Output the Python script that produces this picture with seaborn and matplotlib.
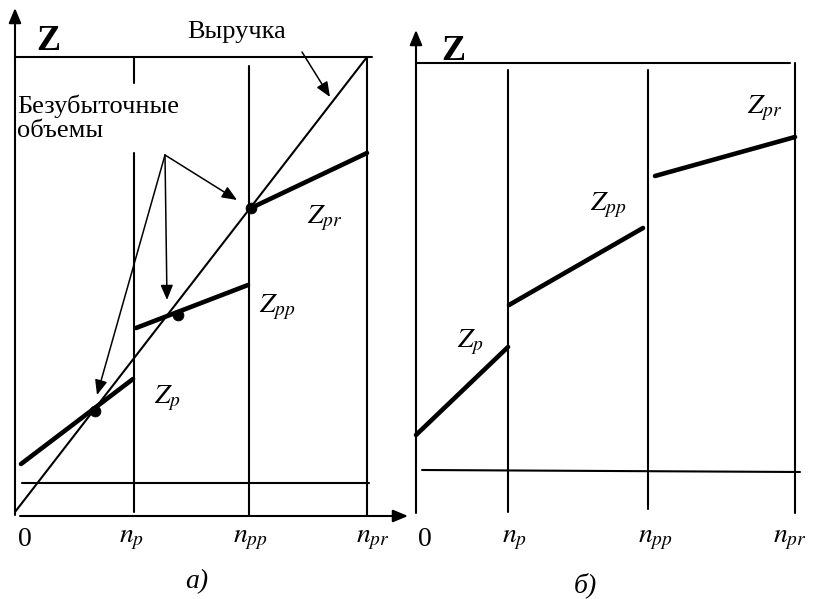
"""
Break-even volumes for three production variants (panel а) and the
stepwise cost curve Z over volume ranges (panel б).
"""
import numpy as np
import pandas as pd
import matplotlib
matplotlib.use("Agg")
import matplotlib.pyplot as plt
import seaborn as sns

sns.set_theme(style="white")
plt.rcParams["font.family"] = ["Liberation Serif", "DejaVu Serif"]
plt.rcParams["mathtext.fontset"] = "stix"
plt.rcParams["text.color"] = "black"

# ── panel а: volumes on x (n_p, n_pp, n_pr), cost on y ───────────────────────
A_VOLUMES = [1.19, 2.34, 3.52]
A_TOP = 4.58
A_FIXED_X = [0.07, 3.54]
A_FIXED_Y = [0.32, 0.32]
A_REVENUE_X = [0.0, 3.52]
A_REVENUE_Y = [0.03, 4.58]
A_ZP_X, A_ZP_Y = [0.06, 1.18], [0.51, 1.36]
A_ZPP_X, A_ZPP_Y = [1.21, 2.33], [1.87, 2.30]
A_ZPR_X, A_ZPR_Y = [2.36, 3.52], [3.07, 3.62]
A_BREAKEVEN_X = [0.80, 1.63, 2.36]
A_BREAKEVEN_Y = [1.04, 2.00, 3.07]
A_ARROW_TIPS_X = [0.82, 1.52, 2.22]
A_ARROW_TIPS_Y = [1.20, 2.15, 3.15]

# ── panel б ─────────────────────────────────────────────────────────────────
B_VOLUMES = [0.92, 2.32, 3.79]
B_TOP = 4.49
B_FIXED_X = [0.06, 3.84]
B_FIXED_Y = [0.42, 0.40]
B_ZP_X, B_ZP_Y = [0.0, 0.92], [0.77, 1.65]
B_ZPP_X, B_ZPP_Y = [0.93, 2.27], [2.07, 2.84]
B_ZPR_X, B_ZPR_Y = [2.39, 3.79], [3.36, 3.75]

TICK_LABELS = ["0", "$n_p$", "$n_{pp}$", "$n_{pr}$"]
CURVE_LABELS = ["$Z_p$", "$Z_{pp}$", "$Z_{pr}$"]


def segments(rows):
    """rows: (name, kind, xs, ys) -> long-form frame for sns.lineplot."""
    out = []
    for name, kind, xs, ys in rows:
        for x, y in zip(xs, ys):
            out.append({"seg": name, "kind": kind, "x": x, "y": y})
    return pd.DataFrame(out)


def draw_lines(ax, df):
    sns.lineplot(data=df, x="x", y="y", units="seg", estimator=None,
                 size="kind", sizes={"thin": 1.5, "thick": 3.3},
                 color="black", sort=False, legend=False, ax=ax)


def arrow(ax, start, tip, lw=1.1, ms=15):
    ax.annotate("", xy=tip, xytext=start,
                arrowprops=dict(arrowstyle="-|>,head_length=0.6,head_width=0.25",
                                color="black", lw=lw, mutation_scale=ms,
                                shrinkA=0, shrinkB=0))


fig = plt.figure(figsize=(8.14, 5.99), dpi=100)

# panel а -------------------------------------------------------------------
ax = fig.add_axes([0, 0, 1, 1])
ax.set_xlim(-0.15, 7.99)
ax.set_ylim(-0.84, 5.15)
ax.set_axis_off()

n_p, n_pp, n_pr = A_VOLUMES
rows = [
    ("top", "thin", [0.0, n_pr + 0.05], [A_TOP, A_TOP]),
    ("vp_hi", "thin", [n_p, n_p], [A_TOP, 4.32]),
    ("vp_lo", "thin", [n_p, n_p], [3.62, 0.03]),
    ("vpp", "thin", [n_pp, n_pp], [4.49, 0.0]),
    ("vpr", "thin", [n_pr, n_pr], [A_TOP, 0.0]),
    ("fixed", "thin", A_FIXED_X, A_FIXED_Y),
    ("revenue", "thin", A_REVENUE_X, A_REVENUE_Y),
    ("zp", "thick", A_ZP_X, A_ZP_Y),
    ("zpp", "thick", A_ZPP_X, A_ZPP_Y),
    ("zpr", "thick", A_ZPR_X, A_ZPR_Y),
]
draw_lines(ax, segments(rows))
sns.scatterplot(x=A_BREAKEVEN_X, y=A_BREAKEVEN_Y, color="black", s=60,
                edgecolor="black", ax=ax, zorder=5)

arrow(ax, (0.0, 0.0), (0.0, 5.07), lw=1.5)
arrow(ax, (0.05, -0.01), (3.93, -0.01), lw=1.5)
arrow(ax, (2.87, 4.63), (3.15, 4.18))
for tx, ty in zip(A_ARROW_TIPS_X, A_ARROW_TIPS_Y):
    arrow(ax, (1.50, 3.60), (tx, ty))

ax.text(0.33, 4.74, "Z", fontsize=26, fontweight="bold", ha="center", va="center")
ax.text(2.22, 4.83, "Выручка", fontsize=19, ha="center", va="center")
ax.text(0.02, 4.09, "Безубыточные", fontsize=19, ha="left", va="center")
ax.text(0.02, 3.84, "объемы", fontsize=19, ha="left", va="center")
for (lx, ly), lab in zip([(1.52, 1.17), (2.62, 2.08), (3.10, 2.97)], CURVE_LABELS):
    ax.text(lx, ly, lab, fontsize=20, ha="center", va="center")
for lx, lab in zip([0.10, 1.17, 2.35, 3.58], TICK_LABELS):
    ax.text(lx, -0.25, lab, fontsize=20, ha="center", va="center")
ax.text(1.82, -0.67, "а)", fontsize=20, style="italic", ha="center", va="center")

# panel б -------------------------------------------------------------------
ax = fig.add_axes([0, 0, 1, 1])
ax.set_xlim(-4.16, 3.98)
ax.set_ylim(-0.87, 5.12)
ax.set_axis_off()

n_p, n_pp, n_pr = B_VOLUMES
rows = [
    ("top", "thin", [0.0, 3.74], [B_TOP, B_TOP]),
    ("vp", "thin", [n_p, n_p], [4.42, 0.0]),
    ("vpp", "thin", [n_pp, n_pp], [4.42, 0.03]),
    ("vpr", "thin", [n_pr, n_pr], [B_TOP, -0.01]),
    ("fixed", "thin", B_FIXED_X, B_FIXED_Y),
    ("zp", "thick", B_ZP_X, B_ZP_Y),
    ("zpp", "thick", B_ZPP_X, B_ZPP_Y),
    ("zpr", "thick", B_ZPR_X, B_ZPR_Y),
]
draw_lines(ax, segments(rows))

arrow(ax, (0.0, -0.01), (0.0, 4.82), lw=1.5)
arrow(ax, (0.0, 0.0), (4.02, 0.0), lw=1.5)

ax.text(0.37, 4.60, "Z", fontsize=26, fontweight="bold", ha="center", va="center")
for (lx, ly), lab in zip([(0.54, 1.70), (1.92, 3.07), (3.49, 4.04)], CURVE_LABELS):
    ax.text(lx, ly, lab, fontsize=20, ha="center", va="center")
for lx, lab in zip([0.09, 0.99, 2.39, 3.74], TICK_LABELS):
    ax.text(lx, -0.28, lab, fontsize=20, ha="center", va="center")
ax.text(1.69, -0.73, "б)", fontsize=20, style="italic", ha="center", va="center")

fig.savefig("out.png", dpi=100)
plt.close(fig)
